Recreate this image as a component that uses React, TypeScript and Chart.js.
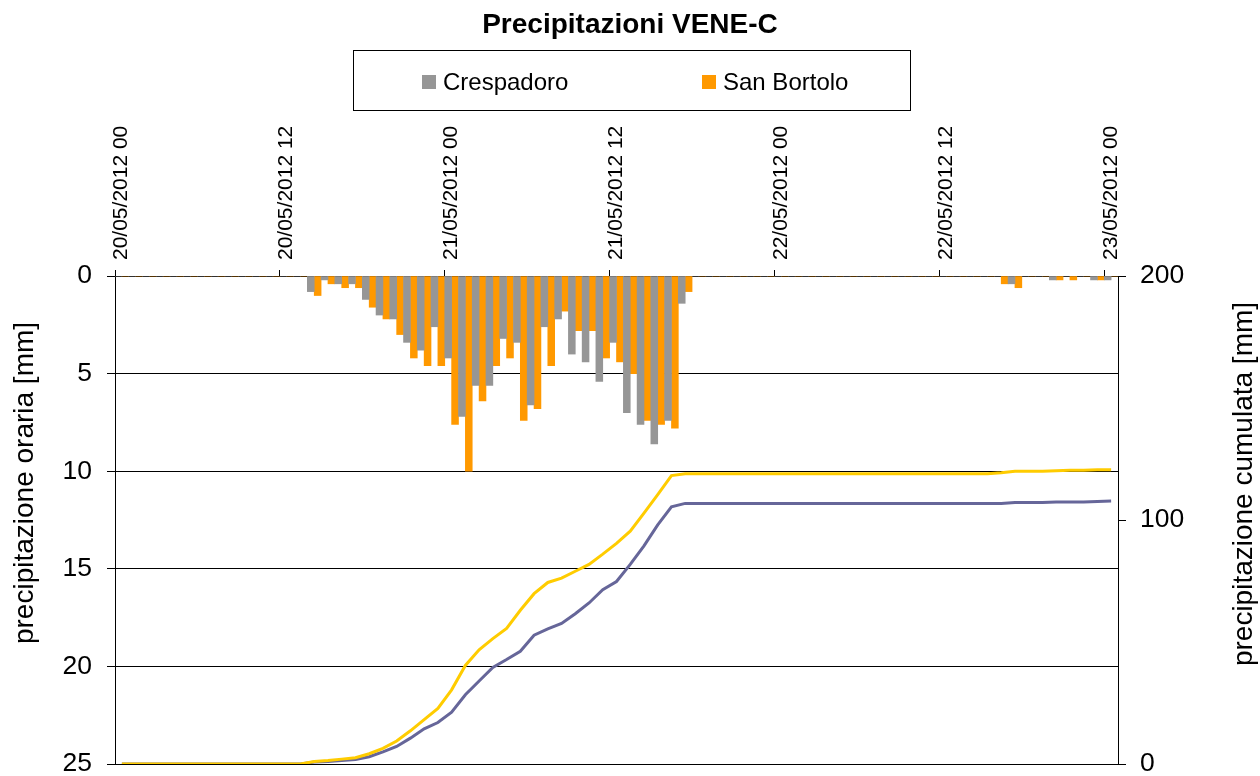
import React, { useEffect, useRef } from 'react';
import { Chart, registerables } from 'chart.js';

Chart.register(...registerables);

const FAMILY = "'Liberation Sans', Arial, Helvetica, sans-serif";

const TITLE = 'Precipitazioni VENE-C';
const LEFT_AXIS_TITLE = 'precipitazione oraria [mm]';
const RIGHT_AXIS_TITLE = 'precipitazione cumulata [mm]';

// 73 hourly categories: 20/05/2012 00 ... 23/05/2012 00
const HOURS: number[] = Array.from({ length: 73 }, (_, i) => i);
const TICK_LABELS = [
  '20/05/2012 00',
  '20/05/2012 12',
  '21/05/2012 00',
  '21/05/2012 12',
  '22/05/2012 00',
  '22/05/2012 12',
  '23/05/2012 00',
];

const SERIES_NAMES = ['Crespadoro', 'San Bortolo'];

// hourly precipitation [mm]
const CRESPADORO_HOURLY = [
  0, 0, 0, 0, 0, 0, 0, 0, 0, 0, 0, 0,
  0, 0, 0.8, 0.2, 0.4, 0.4, 1.2, 2.0, 2.2, 3.4, 3.8, 2.6,
  4.2, 7.2, 5.6, 5.6, 3.2, 3.4, 6.6, 2.6, 2.2, 4.0, 4.4, 5.4,
  3.4, 7.0, 7.6, 8.6, 7.4, 1.4, 0, 0, 0, 0, 0, 0,
  0, 0, 0, 0, 0, 0, 0, 0, 0, 0, 0, 0,
  0, 0, 0, 0, 0, 0.4, 0, 0, 0.2, 0, 0, 0.2,
  0.2,
];

const SAN_BORTOLO_HOURLY = [
  0, 0, 0, 0, 0, 0, 0, 0, 0, 0, 0, 0,
  0, 0, 1.0, 0.4, 0.6, 0.6, 1.6, 2.2, 3.0, 4.2, 4.6, 4.6,
  7.6, 10.0, 6.4, 4.6, 4.2, 7.4, 6.8, 4.6, 1.8, 2.8, 2.8, 4.2,
  4.4, 5.0, 7.4, 7.6, 7.8, 0.8, 0, 0, 0, 0, 0, 0,
  0, 0, 0, 0, 0, 0, 0, 0, 0, 0, 0, 0,
  0, 0, 0, 0, 0.4, 0.6, 0, 0, 0.2, 0.2, 0, 0.2,
  0,
];

// cumulative precipitation [mm]
const CRESPADORO_CUM = [
  0, 0, 0, 0, 0, 0, 0, 0, 0, 0, 0, 0,
  0, 0, 0.8, 1.0, 1.4, 1.8, 3.0, 5.0, 7.2, 10.6, 14.4, 17.0,
  21.2, 28.4, 34.0, 39.6, 42.8, 46.2, 52.8, 55.4, 57.6, 61.6, 66.0, 71.4,
  74.8, 81.8, 89.4, 98.0, 105.4, 106.8, 106.8, 106.8, 106.8, 106.8, 106.8, 106.8,
  106.8, 106.8, 106.8, 106.8, 106.8, 106.8, 106.8, 106.8, 106.8, 106.8, 106.8, 106.8,
  106.8, 106.8, 106.8, 106.8, 106.8, 107.2, 107.2, 107.2, 107.4, 107.4, 107.4, 107.6,
  107.8,
];

const SAN_BORTOLO_CUM = [
  0, 0, 0, 0, 0, 0, 0, 0, 0, 0, 0, 0,
  0, 0, 1.0, 1.4, 2.0, 2.6, 4.2, 6.4, 9.4, 13.6, 18.2, 22.8,
  30.4, 40.4, 46.8, 51.4, 55.6, 63.0, 69.8, 74.4, 76.2, 79.0, 81.8, 86.0,
  90.4, 95.4, 102.8, 110.4, 118.2, 119.0, 119.0, 119.0, 119.0, 119.0, 119.0, 119.0,
  119.0, 119.0, 119.0, 119.0, 119.0, 119.0, 119.0, 119.0, 119.0, 119.0, 119.0, 119.0,
  119.0, 119.0, 119.0, 119.0, 119.4, 120.0, 120.0, 120.0, 120.2, 120.4, 120.4, 120.6,
  120.6,
];

const GRAY = '#969696';
const ORANGE = '#FF9900';
const YELLOW = '#FFCC00';
const PURPLE = '#666699';

const overlayPlugin = {
  id: 'overlay',
  afterDraw(chart: any) {
    const ctx = chart.ctx as CanvasRenderingContext2D;
    ctx.save();
    // legend frame
    ctx.strokeStyle = '#000';
    ctx.lineWidth = 1;
    ctx.strokeRect(353.5, 50.5, 557, 60);
    // legend items (bar datasets only)
    ctx.font = `24px ${FAMILY}`;
    ctx.textAlign = 'left';
    ctx.textBaseline = 'alphabetic';
    const itemX = [422, 702];
    [0, 1].forEach((di, k) => {
      const ds = chart.data.datasets[di];
      ctx.fillStyle = ds.backgroundColor;
      ctx.fillRect(itemX[k], 75, 14, 14);
      ctx.fillStyle = '#000';
      ctx.fillText(ds.label, itemX[k] + 21, 90);
    });
    // axis titles
    ctx.font = `28px ${FAMILY}`;
    ctx.textAlign = 'center';
    ctx.fillStyle = '#000';
    ctx.save();
    ctx.translate(33, 483);
    ctx.rotate(-Math.PI / 2);
    ctx.fillText(LEFT_AXIS_TITLE, 0, 0);
    ctx.restore();
    ctx.save();
    ctx.translate(1252, 484);
    ctx.rotate(-Math.PI / 2);
    ctx.fillText(RIGHT_AXIS_TITLE, 0, 0);
    ctx.restore();
    ctx.restore();
  },
};

export default function App() {
  const ref = useRef<HTMLCanvasElement>(null);

  useEffect(() => {
    const canvas = ref.current;
    if (!canvas) return;
    Chart.defaults.font.family = FAMILY;
    Chart.defaults.color = '#000';

    const chart = new Chart(canvas, {
      type: 'bar',
      data: {
        labels: HOURS,
        datasets: [
          {
            type: 'bar',
            label: SERIES_NAMES[0],
            data: CRESPADORO_HOURLY,
            backgroundColor: GRAY,
            yAxisID: 'y',
            barPercentage: 1,
            categoryPercentage: 1,
            order: 2,
          },
          {
            type: 'bar',
            label: SERIES_NAMES[1],
            data: SAN_BORTOLO_HOURLY,
            backgroundColor: ORANGE,
            yAxisID: 'y',
            barPercentage: 1,
            categoryPercentage: 1,
            order: 3,
          },
          {
            type: 'line',
            label: SERIES_NAMES[0] + ' cumulata',
            data: CRESPADORO_CUM,
            borderColor: PURPLE,
            backgroundColor: PURPLE,
            borderWidth: 3,
            pointRadius: 0,
            tension: 0,
            fill: false,
            yAxisID: 'y2',
            order: 1,
          },
          {
            type: 'line',
            label: SERIES_NAMES[1] + ' cumulata',
            data: SAN_BORTOLO_CUM,
            borderColor: YELLOW,
            backgroundColor: YELLOW,
            borderWidth: 3,
            pointRadius: 0,
            tension: 0,
            fill: false,
            yAxisID: 'y2',
            order: 0,
          },
        ] as any,
      },
      options: {
        animation: false,
        responsive: false,
        maintainAspectRatio: false,
        devicePixelRatio: 1,
        layout: { padding: { left: 0, right: 0, top: 0, bottom: 12 } },
        plugins: {
          legend: { display: false },
          tooltip: { enabled: false },
          title: {
            display: true,
            text: TITLE,
            color: '#000',
            font: { size: 28, weight: 'bold', family: FAMILY, lineHeight: 1.2 },
            padding: { top: 8, bottom: 0 },
          },
        },
        scales: {
          x: {
            position: 'top',
            offset: true,
            grid: {
              offset: true,
              drawOnChartArea: false,
              drawTicks: true,
              tickLength: 6,
              color: (c: any) => (c.index % 12 === 0 ? '#000' : 'rgba(0,0,0,0)'),
            },
            border: { display: true, color: '#000', width: 1 },
            ticks: {
              autoSkip: false,
              minRotation: 90,
              maxRotation: 90,
              padding: 10,
              labelOffset: 25,
              color: '#000',
              font: { size: 21, family: FAMILY },
              callback: (_v: any, i: number) => (i % 12 === 0 ? TICK_LABELS[i / 12] : ''),
            },
            afterFit: (s: any) => {
              s.height = 234.4;
              s.paddingLeft = 0;
              s.paddingRight = 0;
            },
          },
          y: {
            position: 'left',
            reverse: true,
            min: 0,
            max: 25,
            ticks: { stepSize: 5, padding: 15, color: '#000', font: { size: 26.5, family: FAMILY } },
            grid: { color: '#000', lineWidth: 1, tickLength: 8 },
            border: { display: true, color: '#000', width: 1 },
            afterFit: (s: any) => {
              s.width = 115;
              s.paddingTop = 0;
              s.paddingBottom = 0;
            },
          },
          y2: {
            position: 'right',
            min: 0,
            max: 200,
            ticks: { stepSize: 100, padding: 14, color: '#000', font: { size: 26.5, family: FAMILY } },
            grid: { drawOnChartArea: false, color: '#000', lineWidth: 1, tickLength: 8 },
            border: { display: true, color: '#000', width: 1 },
            afterFit: (s: any) => {
              s.width = 142;
              s.paddingTop = 0;
              s.paddingBottom = 0;
            },
          },
        },
      } as any,
      plugins: [overlayPlugin],
    });

    return () => chart.destroy();
  }, []);

  return (
    <div style={{ position: 'fixed', left: 0, top: 0, width: 1260, height: 776, background: '#fff' }}>
      <canvas ref={ref} width={1260} height={776} style={{ width: 1260, height: 776, display: 'block' }} />
    </div>
  );
}
